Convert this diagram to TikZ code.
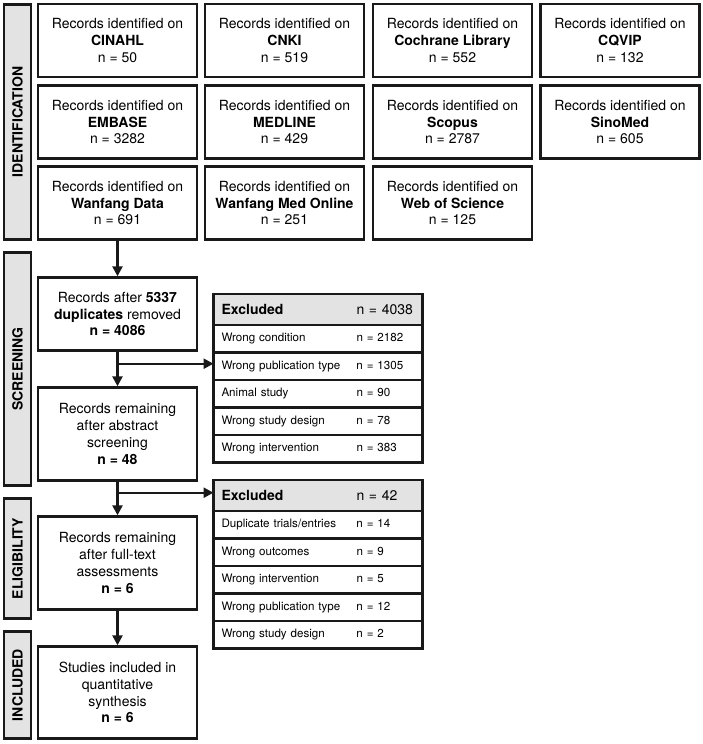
\documentclass[tikz,border=0pt]{standalone}
\usepackage{fontspec}
\setmainfont{TeX Gyre Heros}
\usetikzlibrary{arrows.meta,calc}
\begin{document}
\begin{tikzpicture}[x=1pt,y=-1pt,
  box/.style={draw=black!90, line width=2.4pt, minimum width=159pt, minimum height=#1, align=center, inner sep=0pt,
    font=\fontsize{14}{16.8}\selectfont},
  box/.default=73pt,
  phase/.style={draw=black!90, fill=black!11, line width=2.4pt, minimum width=26.5pt, minimum height=#1, inner sep=0pt},
  phaselabel/.style={rotate=90, font=\fontsize{14}{16}\selectfont\bfseries},
  hdr/.style={draw=black!90, fill=black!11, line width=2.4pt, anchor=north west, text width=193pt, inner xsep=8pt, inner ysep=0pt,
    outer sep=0pt, minimum height=31pt, align=left, font=\fontsize{14}{16}\selectfont},
  row/.style={draw=black!90, line width=2.4pt, anchor=north west, text width=193pt, inner xsep=8pt, inner ysep=0pt,
    outer sep=0pt, minimum height=27.5pt, align=left, font=\fontsize{11.6}{14}\selectfont},
  conn/.style={line width=2.4pt, draw=black!90, -{Triangle[length=10pt,width=10pt]}},
]
\useasboundingbox (0,0) rectangle (703,744);
\newcommand{\rw}[2]{\makebox[135pt][l]{#1}#2}

% phase bars
\node[phase=235pt] (pid) at (17.5,122) {};
\node[phaselabel] (pidl) at (pid.center) {IDENTIFICATION};
\node[phase=233pt] (pscr) at (17.5,369) {};
\node[phaselabel] (pscrl) at (pscr.center) {SCREENING};
\node[phase=120pt] (pel) at (17.5,558.5) {};
\node[phaselabel] (pell) at (pel.center) {ELIGIBILITY};
\node[phase=107pt] (pin) at (17.5,685) {};
\node[phaselabel] (pinl) at (pin.center) {INCLUDED};

% identification boxes
\node[box] (a1) at (117.5,40.5) {Records identified on\\\textbf{CINAHL}\\n = 50};
\node[box] (a2) at (284.5,40.5) {Records identified on\\\textbf{CNKI}\\n = 519};
\node[box] (a3) at (452.5,40.5) {Records identified on\\\textbf{Cochrane Library}\\n = 552};
\node[box] (a4) at (620,40.5) {Records identified on\\\textbf{CQVIP}\\n = 132};
\node[box] (b1) at (117.5,122) {Records identified on\\\textbf{EMBASE}\\n = 3282};
\node[box] (b2) at (284.5,122) {Records identified on\\\textbf{MEDLINE}\\n = 429};
\node[box] (b3) at (452.5,122) {Records identified on\\\textbf{Scopus}\\n = 2787};
\node[box] (b4) at (620,122) {Records identified on\\\textbf{SinoMed}\\n = 605};
\node[box] (c1) at (117.5,203) {Records identified on\\\textbf{Wanfang Data}\\n = 691};
\node[box] (c2) at (284.5,203) {Records identified on\\\textbf{Wanfang Med Online}\\n = 251};
\node[box] (c3) at (452.5,203) {Records identified on\\\textbf{Web of Science}\\n = 125};

% main flow
\node[box] (s1) at (117.5,314) {Records after \textbf{5337}\\\textbf{duplicates} removed\\\textbf{n = 4086}};
\node[box=93pt] (s2) at (117.5,434) {Records remaining\\after abstract\\screening\\\textbf{n = 48}};
\node[box=93pt] (e1) at (117.5,563) {Records remaining\\after full-text\\assessments\\\textbf{n = 6}};
\node[box=92pt] (i1) at (117.5,692.5) {Studies included in\\quantitative\\synthesis\\\textbf{n = 6}};

% excluded table 1
\node[hdr] (t1h) at (213.5,294) {\rw{\textbf{Excluded}}{n = 4038}};
\node[row] (t1r1) at (t1h.south west) {\rw{Wrong condition}{n = 2182}};
\node[row] (t1r2) at (t1r1.south west) {\rw{Wrong publication type}{n = 1305}};
\node[row] (t1r3) at (t1r2.south west) {\rw{Animal study}{n = 90}};
\node[row] (t1r4) at (t1r3.south west) {\rw{Wrong study design}{n = 78}};
\node[row] (t1r5) at (t1r4.south west) {\rw{Wrong intervention}{n = 383}};

% excluded table 2
\node[hdr] (t2h) at (213.5,480) {\rw{\textbf{Excluded}}{n = 42}};
\node[row] (t2r1) at (t2h.south west) {\rw{Duplicate trials/entries}{n = 14}};
\node[row] (t2r2) at (t2r1.south west) {\rw{Wrong outcomes}{n = 9}};
\node[row] (t2r3) at (t2r2.south west) {\rw{Wrong intervention}{n = 5}};
\node[row] (t2r4) at (t2r3.south west) {\rw{Wrong publication type}{n = 12}};
\node[row] (t2r5) at (t2r4.south west) {\rw{Wrong study design}{n = 2}};

% connectors
\draw[conn] (c1.south) -- (s1.north);
\draw[conn] (s1.south) -- (s2.north);
\path (s1.south) ++(0,12) coordinate (k1);
\draw[conn] (k1) -- (k1 -| t1r2.west);
\draw[conn] (s2.south) -- (e1.north);
\path (s2.south) ++(0,11) coordinate (k2);
\draw[conn] (k2) -- (k2 -| t2h.west);
\draw[conn] (e1.south) -- (i1.north);
\end{tikzpicture}
\end{document}
